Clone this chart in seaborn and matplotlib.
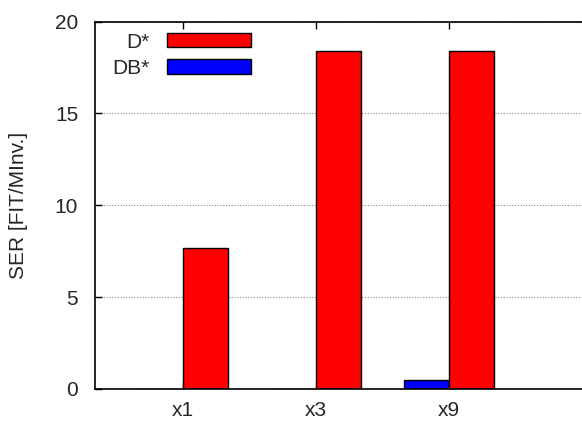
import pandas as pd
import matplotlib
matplotlib.use("Agg")
import matplotlib.pyplot as plt
import seaborn as sns

# values
categories = ["x1", "x3", "x9"]
d_star = [7.65, 18.4, 18.4]
db_star = [0.0, 0.0, 0.5]

df = pd.DataFrame({
    "factor": categories * 2,
    "series": ["DB*"] * 3 + ["D*"] * 3,
    "ser": db_star + d_star,
})

sns.set_style("white")
plt.rcParams["font.family"] = ["Liberation Sans", "DejaVu Sans"]

fig = plt.figure(figsize=(5.82, 4.25), dpi=100)
ax = fig.add_axes([0.163, 0.085, 0.837, 0.864])

sns.barplot(data=df, x="factor", y="ser", hue="series", hue_order=["DB*", "D*"],
            palette={"DB*": "#0000ff", "D*": "#ff0000"}, width=0.68,
            edgecolor="black", linewidth=1.0, saturation=1, ax=ax)

ax.set_xlim(-0.66, 3.0)
ax.set_ylim(0, 20)
ax.set_yticks([0, 5, 10, 15, 20])
ax.yaxis.grid(True, linestyle=(0, (1, 1.5)), color="#888888", linewidth=0.8)
ax.set_axisbelow(True)
ax.set_xlabel("")
ax.set_ylabel("SER [FIT/MInv.]", fontsize=15, labelpad=19)
ax.tick_params(axis="both", labelsize=15, direction="in", length=5, width=1, color="black")
ax.tick_params(axis="x", top=True, bottom=True, pad=9)
ax.tick_params(axis="y", left=True, pad=12)
for side in ["left", "bottom", "top"]:
    ax.spines[side].set_color("black")
    ax.spines[side].set_linewidth(1.2)
ax.spines["right"].set_visible(False)

handles, labels = ax.get_legend_handles_labels()
order = [labels.index("D*"), labels.index("DB*")]
ax.legend([handles[i] for i in order], [labels[i] for i in order],
          loc="upper left", bbox_to_anchor=(0.006, 1.01), frameon=False,
          markerfirst=False, handlelength=4.0, handleheight=0.67,
          handletextpad=0.85, labelspacing=0.35, fontsize=15,
          borderaxespad=0.3)

fig.savefig("out.png", dpi=100)
